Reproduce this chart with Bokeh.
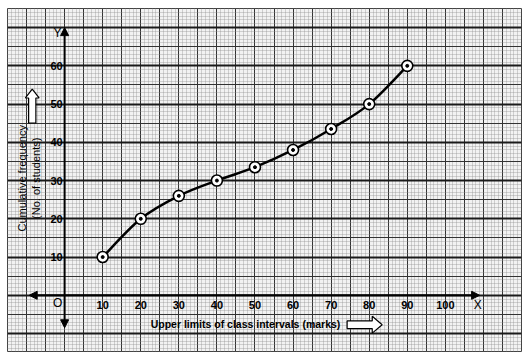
import numpy as np
from bokeh.plotting import figure
from bokeh.models import Grid, SingleIntervalTicker, Arrow, NormalHead, ColumnDataSource
from bokeh.core.properties import value
from bokeh.embed import file_html
from bokeh.resources import INLINE

# data
upper_limits = [10, 20, 30, 40, 50, 60, 70, 80, 90]
cum_freq = [10, 20, 26, 30, 33.5, 38, 43.5, 50, 60]
x_tick_labels = ["10", "20", "30", "40", "50", "60", "70", "80", "90", "100"]
x_tick_values = [10, 20, 30, 40, 50, 60, 70, 80, 90, 100]
y_tick_labels = ["10", "20", "30", "40", "50", "60"]
y_tick_values = [10, 20, 30, 40, 50, 60]

FONT = value("Liberation Sans")

p = figure(width=528, height=358, output_backend="svg", toolbar_location=None,
           x_range=(-15, 120), y_range=(-14.7, 75),
           min_border_left=7, min_border_right=7, min_border_top=8, min_border_bottom=7,
           x_axis_location=None, y_axis_location=None)
p.grid.visible = False
p.outline_line_color = "#444444"
p.background_fill_color = "#f2f2f2"
p.border_fill_color = "white"

# graph paper grids
for dim in (0, 1):
    p.add_layout(Grid(dimension=dim, ticker=SingleIntervalTicker(interval=1),
                      grid_line_color="#8c8c8c", grid_line_dash="1 1",
                      grid_line_width=1, grid_line_alpha=0.7))
    p.add_layout(Grid(dimension=dim, ticker=SingleIntervalTicker(interval=5),
                      grid_line_color="#333333", grid_line_width=1))
p.add_layout(Grid(dimension=1, ticker=SingleIntervalTicker(interval=10),
                  grid_line_color="#1a1a1a", grid_line_width=1.8))

# axes with arrows
for (x0, y0, x1, y1) in [(0, 0, 0, 70), (0, 0, 0, -8.5), (0, 0, 109, 0), (0, 0, -9.3, 0)]:
    p.add_layout(Arrow(end=NormalHead(size=8, fill_color="black", line_color="black"),
                       x_start=x0, y_start=y0, x_end=x1, y_end=y1,
                       line_color="black", line_width=2))

# smooth ogive curve via Catmull-Rom beziers built from the data
xs = np.array(upper_limits, dtype=float)
ys = np.array(cum_freq, dtype=float)
px = np.concatenate([[xs[0]], xs, [xs[-1]]])
py = np.concatenate([[ys[0]], ys, [ys[-1]]])
n = len(xs)
seg = dict(x0=[], y0=[], x1=[], y1=[], cx0=[], cy0=[], cx1=[], cy1=[])
for i in range(n - 1):
    a, b, c, d = i, i + 1, i + 2, i + 3
    seg["x0"].append(px[b]); seg["y0"].append(py[b])
    seg["x1"].append(px[c]); seg["y1"].append(py[c])
    seg["cx0"].append(px[b] + (px[c] - px[a]) / 6); seg["cy0"].append(py[b] + (py[c] - py[a]) / 6)
    seg["cx1"].append(px[c] - (px[d] - px[b]) / 6); seg["cy1"].append(py[c] - (py[d] - py[b]) / 6)
p.bezier(x0="x0", y0="y0", x1="x1", y1="y1", cx0="cx0", cy0="cy0", cx1="cx1", cy1="cy1",
         source=ColumnDataSource(seg), line_color="black", line_width=2.5)

src = ColumnDataSource(dict(x=upper_limits, y=cum_freq))
p.scatter("x", "y", source=src, size=11, fill_color="white", line_color="black", line_width=1.6)
p.scatter("x", "y", source=src, size=3, fill_color="black", line_color="black")

# tick labels
p.text(x=x_tick_values, y=[0] * len(x_tick_values), text=x_tick_labels, y_offset=10,
       text_align="center", text_baseline="middle", text_font=FONT,
       text_font_size="11px", text_font_style="bold", text_color="black")
p.text(x=[0] * len(y_tick_values), y=y_tick_values, text=y_tick_labels, x_offset=-2,
       text_align="right", text_baseline="middle", text_font=FONT,
       text_font_size="11px", text_font_style="bold", text_color="black")
p.text(x=[-1.8], y=[-2.1], text=["O"], text_align="center", text_baseline="middle",
       text_font=FONT, text_font_size="12px", text_color="black")
p.text(x=[-1.9], y=[68.7], text=["Y"], text_align="center", text_baseline="middle",
       text_font=FONT, text_font_size="12px", text_color="black")
p.text(x=[108.5], y=[-2.6], text=["X"], text_align="center", text_baseline="middle",
       text_font=FONT, text_font_size="12px", text_color="black")

# axis titles
p.text(x=[22.6], y=[-7.6], text=["Upper limits of class intervals (marks)"],
       text_align="left", text_baseline="middle", text_font=FONT,
       text_font_size="10.5px", text_font_style="bold", text_color="black")
p.text(x=[-11.3, -7.6], y=[30.6, 30.6], text=["Cumulative frequency", "(No. of students)"],
       angle=np.pi / 2, text_align="center", text_baseline="middle", text_font=FONT,
       text_font_size="11px", text_color="black")

# block arrows (outlined)
ax, ay = 74.2, -7.7
p.patch(x=[ax, ax + 6.6, ax + 6.6, ax + 9.2, ax + 6.6, ax + 6.6, ax],
        y=[ay + 1.0, ay + 1.0, ay + 2.2, ay, ay - 2.2, ay - 1.0, ay - 1.0],
        fill_color="white", line_color="black", line_width=1.2)
ux, uy = -8.5, 45.0
p.patch(x=[ux - 0.95, ux - 0.95, ux - 1.8, ux, ux + 1.8, ux + 0.95, ux + 0.95],
        y=[uy, uy + 6.6, uy + 6.6, uy + 8.9, uy + 6.6, uy + 6.6, uy],
        fill_color="white", line_color="black", line_width=1.2)

open("out.html", "w").write(file_html(p, INLINE))
